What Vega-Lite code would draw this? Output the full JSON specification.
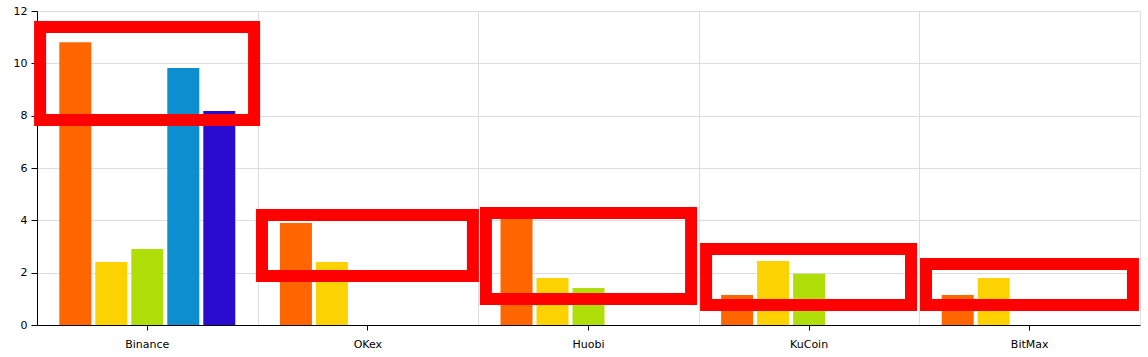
{
  "$schema": "https://vega.github.io/schema/vega-lite/v6.json",
  "width": 1103,
  "height": 314,
  "autosize": {"type": "none"},
  "padding": {"left": 37, "top": 11, "right": 8, "bottom": 32},
  "config": {
    "view": {"stroke": null},
    "font": "DejaVu Sans",
    "axis": {"labelFont": "DejaVu Sans", "labelFontSize": 11, "labelColor": "#000000", "gridColor": "#dddddd", "domainColor": "#000000", "tickColor": "#000000"}
  },
  "layer": [
    {
      "data": {
        "values": [
          {"exchange": "Binance", "series": "S1", "value": 10.81},
          {"exchange": "Binance", "series": "S2", "value": 2.41},
          {"exchange": "Binance", "series": "S3", "value": 2.9},
          {"exchange": "Binance", "series": "S4", "value": 9.82},
          {"exchange": "Binance", "series": "S5", "value": 8.18},
          {"exchange": "OKex", "series": "S1", "value": 3.9},
          {"exchange": "OKex", "series": "S2", "value": 2.41},
          {"exchange": "Huobi", "series": "S1", "value": 4.2},
          {"exchange": "Huobi", "series": "S2", "value": 1.8},
          {"exchange": "Huobi", "series": "S3", "value": 1.41},
          {"exchange": "KuCoin", "series": "S1", "value": 1.15},
          {"exchange": "KuCoin", "series": "S2", "value": 2.45},
          {"exchange": "KuCoin", "series": "S3", "value": 1.96},
          {"exchange": "BitMax", "series": "S1", "value": 1.15},
          {"exchange": "BitMax", "series": "S2", "value": 1.8}
        ]
      },
      "mark": {"type": "bar"},
      "encoding": {
        "x": {
          "field": "exchange", "type": "nominal",
          "sort": ["Binance", "OKex", "Huobi", "KuCoin", "BitMax"],
          "scale": {"paddingInner": 0, "paddingOuter": 0},
          "axis": {"title": null, "labelAngle": 0, "grid": false, "tickSize": 5, "labelPadding": 8, "labelBaseline": "top"}
        },
        "xOffset": {
          "field": "series", "type": "nominal",
          "scale": {"domain": ["S1", "S2", "S3", "S4", "S5"], "paddingInner": 0.111, "paddingOuter": 0.62}
        },
        "y": {
          "field": "value", "type": "quantitative",
          "scale": {"domain": [0, 12], "nice": false},
          "axis": {"title": null, "values": [0, 2, 4, 6, 8, 10, 12], "grid": true, "tickSize": 6, "labelPadding": 4}
        },
        "color": {
          "field": "series", "type": "nominal",
          "scale": {"domain": ["S1", "S2", "S3", "S4", "S5"], "range": ["#FF6600", "#FCD202", "#B0DE09", "#0D8ECF", "#2A0CD0"]},
          "legend": null
        }
      }
    },
    {
      "data": {
        "values": [
          {"x1": 0.014, "x2": 0.984, "y1": 11.39, "y2": 7.83},
          {"x1": 1.02, "x2": 1.976, "y1": 4.2, "y2": 1.87},
          {"x1": 2.035, "x2": 2.965, "y1": 4.28, "y2": 0.99},
          {"x1": 3.033, "x2": 3.962, "y1": 2.9, "y2": 0.76},
          {"x1": 4.03, "x2": 4.968, "y1": 2.33, "y2": 0.76}
        ]
      },
      "mark": {"type": "rect", "filled": false, "stroke": "#FF0000", "strokeWidth": 12},
      "encoding": {
        "x": {
          "field": "x1", "type": "quantitative",
          "scale": {"domain": [0, 5], "nice": false, "zero": false},
          "axis": {"orient": "top", "title": null, "labels": false, "ticks": false, "domain": false, "grid": true, "values": [1, 2, 3, 4, 5]}
        },
        "x2": {"field": "x2"},
        "y": {"field": "y1", "type": "quantitative"},
        "y2": {"field": "y2"}
      }
    }
  ],
  "resolve": {"scale": {"x": "independent"}, "axis": {"x": "independent"}}
}
